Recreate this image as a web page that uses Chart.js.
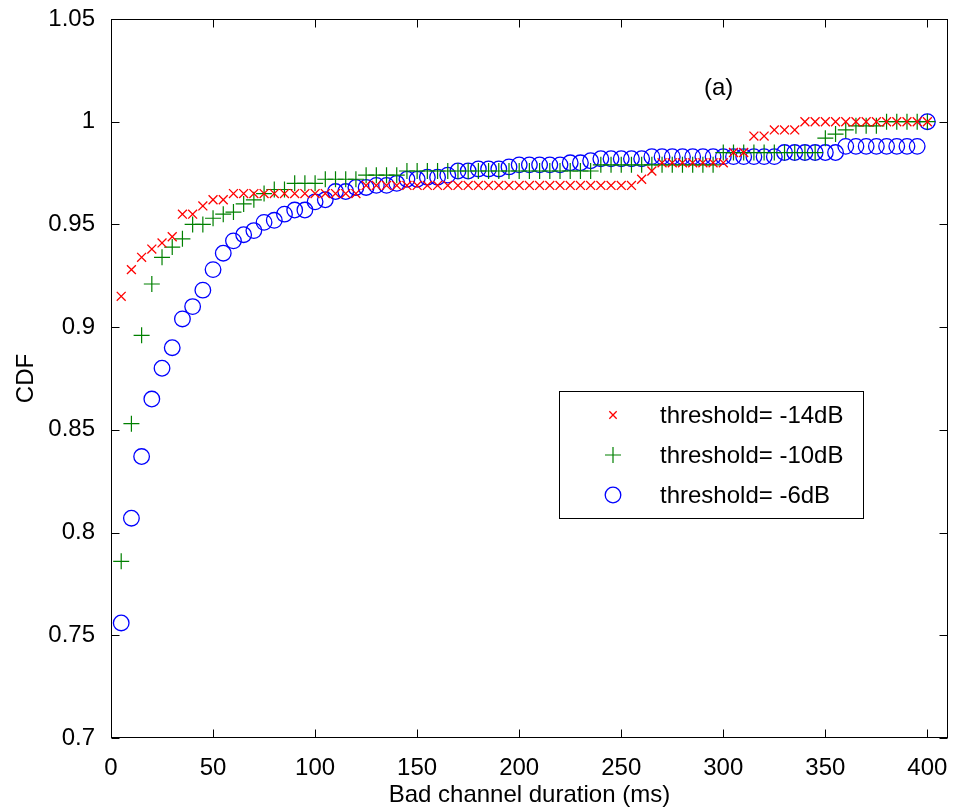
<!DOCTYPE html>
<html>
<head>
<meta charset="utf-8">
<script src="https://cdn.jsdelivr.net/npm/chart.js@4"></script>
<style>
  html, body { margin: 0; padding: 0; background: #ffffff; }
  #wrap { width: 957px; height: 811px; }
</style>
</head>
<body>
<div id="wrap"><canvas id="c" width="957" height="811"></canvas></div>
<script>
// ---- data ----
const xValues = [5,10,15,20,25,30,35,40,45,50,55,60,65,70,75,80,85,90,95,100,
  105,110,115,120,125,130,135,140,145,150,155,160,165,170,175,180,185,190,195,200,
  205,210,215,220,225,230,235,240,245,250,255,260,265,270,275,280,285,290,295,300,
  305,310,315,320,325,330,335,340,345,350,355,360,365,370,375,380,385,390,395,400];

const cdfMinus14 = [0.915,0.928,0.934,0.938,0.941,0.944,0.955,0.955,0.959,0.962,0.962,0.965,0.965,0.965,0.965,0.965,0.965,0.965,0.965,0.965,
  0.965,0.965,0.965,0.965,0.969,0.969,0.969,0.969,0.969,0.969,0.969,0.969,0.969,0.969,0.969,0.969,0.969,0.969,0.969,0.969,
  0.969,0.969,0.969,0.969,0.969,0.969,0.969,0.969,0.969,0.969,0.969,0.972,0.976,0.980,0.980,0.980,0.980,0.980,0.980,0.980,
  0.985,0.985,0.993,0.993,0.996,0.996,0.996,1.000,1.000,1.000,1.000,1.000,1.000,1.000,1.000,1.000,1.000,1.000,1.000,1.000];

const cdfMinus10 = [0.786,0.853,0.896,0.921,0.934,0.939,0.943,0.950,0.950,0.953,0.955,0.956,0.960,0.962,0.965,0.967,0.967,0.970,0.970,0.970,
  0.972,0.972,0.972,0.972,0.974,0.974,0.974,0.974,0.976,0.976,0.976,0.976,0.976,0.976,0.976,0.976,0.976,0.976,0.976,0.976,
  0.976,0.976,0.976,0.976,0.976,0.976,0.976,0.979,0.979,0.979,0.979,0.979,0.979,0.979,0.979,0.979,0.979,0.979,0.979,0.985,
  0.985,0.985,0.985,0.985,0.985,0.985,0.985,0.985,0.985,0.992,0.994,0.996,0.998,0.998,0.998,1.000,1.000,1.000,1.000,1.000];

const cdfMinus6 = [0.756,0.807,0.837,0.865,0.880,0.890,0.904,0.910,0.918,0.928,0.936,0.942,0.945,0.947,0.951,0.952,0.955,0.957,0.957,0.961,
  0.962,0.966,0.966,0.968,0.968,0.969,0.969,0.970,0.972,0.972,0.973,0.973,0.974,0.976,0.976,0.977,0.977,0.977,0.978,0.979,
  0.979,0.979,0.979,0.979,0.980,0.980,0.981,0.982,0.982,0.982,0.982,0.982,0.983,0.983,0.983,0.983,0.983,0.983,0.983,0.983,
  0.983,0.983,0.983,0.983,0.983,0.985,0.985,0.985,0.985,0.985,0.985,0.988,0.988,0.988,0.988,0.988,0.988,0.988,0.988,1.000];

const seriesLabels = ['threshold= -14dB', 'threshold= -10dB', 'threshold= -6dB'];
const xTickLabels = ['0','50','100','150','200','250','300','350','400'];
const yTickLabels = ['0.7','0.75','0.8','0.85','0.9','0.95','1','1.05'];
const xAxisTitle = 'Bad channel duration (ms)';
const yAxisTitle = 'CDF';
const panelTag = '(a)';
const panelTagAt = { x: 297.7, y: 1.016 };

// ---- styling ----
const FONT = '"Liberation Sans", Arial, Helvetica, sans-serif';
const styles = [
  { color: '#ff0000', pointStyle: 'crossRot', radius: 6.3, borderWidth: 1.3 },
  { color: '#008000', pointStyle: 'cross', radius: 8, borderWidth: 1.2 },
  { color: '#0000ff', pointStyle: 'circle', radius: 7.8, borderWidth: 1.3 }
];
const series = [cdfMinus14, cdfMinus10, cdfMinus6];

const datasets = series.map((vals, i) => ({
  label: seriesLabels[i],
  data: xValues.map((x, j) => ({ x: x, y: vals[j] })),
  showLine: false,
  pointStyle: styles[i].pointStyle,
  pointRadius: styles[i].radius,
  pointHoverRadius: styles[i].radius,
  pointBorderColor: styles[i].color,
  pointBackgroundColor: 'rgba(0,0,0,0)',
  pointBorderWidth: styles[i].borderWidth,
  clip: false
}));

function drawMarker(ctx, style, x, y, r) {
  ctx.save();
  ctx.strokeStyle = style.color;
  ctx.lineWidth = style.borderWidth;
  ctx.beginPath();
  if (style.pointStyle === 'circle') {
    ctx.arc(x, y, r, 0, Math.PI * 2);
  } else if (style.pointStyle === 'cross') {
    ctx.moveTo(x - r, y); ctx.lineTo(x + r, y);
    ctx.moveTo(x, y - r); ctx.lineTo(x, y + r);
  } else {
    const d = r * Math.SQRT1_2;
    ctx.moveTo(x - d, y - d); ctx.lineTo(x + d, y + d);
    ctx.moveTo(x - d, y + d); ctx.lineTo(x + d, y - d);
  }
  ctx.stroke();
  ctx.restore();
}

const framePlugin = {
  id: 'matlabFrame',
  afterDatasetsDraw(chart) {
    const ctx = chart.ctx;
    const a = chart.chartArea;
    const L = Math.round(a.left) + 0.5, R = Math.round(a.right) - 0.5;
    const T = Math.round(a.top) + 0.5, B = Math.round(a.bottom) - 0.5;
    const tick = 8;
    ctx.save();
    ctx.strokeStyle = '#000000';
    ctx.lineWidth = 1;
    ctx.strokeRect(L, T, R - L, B - T);
    ctx.beginPath();
    chart.scales.x.ticks.forEach(t => {
      const px = Math.round(chart.scales.x.getPixelForValue(t.value)) + 0.5;
      ctx.moveTo(px, B); ctx.lineTo(px, B - tick);
      ctx.moveTo(px, T); ctx.lineTo(px, T + tick);
    });
    chart.scales.y.ticks.forEach(t => {
      const py = Math.round(chart.scales.y.getPixelForValue(t.value)) + 0.5;
      ctx.moveTo(L, py); ctx.lineTo(L + tick, py);
      ctx.moveTo(R, py); ctx.lineTo(R - tick, py);
    });
    ctx.stroke();

    // panel tag
    ctx.fillStyle = '#000000';
    ctx.font = '24px ' + FONT;
    ctx.textAlign = 'center';
    ctx.textBaseline = 'middle';
    ctx.fillText(panelTag, chart.scales.x.getPixelForValue(panelTagAt.x), chart.scales.y.getPixelForValue(panelTagAt.y));

    // legend box
    const box = { left: 559, top: 391, right: 863, bottom: 518 };
    ctx.fillStyle = '#ffffff';
    ctx.fillRect(box.left, box.top, box.right - box.left, box.bottom - box.top);
    ctx.strokeStyle = '#000000';
    ctx.strokeRect(box.left + 0.5, box.top + 0.5, box.right - box.left, box.bottom - box.top);
    const rowY = [415, 455, 495];
    const markerX = 613, textX = 660;
    const legendR = [5.2, 8, 7.8];
    chart.data.datasets.forEach((ds, i) => {
      drawMarker(ctx, styles[i], markerX, rowY[i], legendR[i]);
      ctx.fillStyle = '#000000';
      ctx.font = '24px ' + FONT;
      ctx.textAlign = 'left';
      ctx.textBaseline = 'middle';
      ctx.fillText(ds.label, textX, rowY[i] + 1);
    });
    ctx.restore();
  }
};

function labelFor(list, value) {
  const hit = list.find(s => Math.abs(Number(s) - value) < 1e-6);
  return hit === undefined ? '' : hit;
}

new Chart(document.getElementById('c'), {
  type: 'scatter',
  data: { datasets: datasets },
  options: {
    responsive: false,
    animation: false,
    devicePixelRatio: 1,
    layout: { padding: { top: 19, right: 3, left: 0, bottom: 0 } },
    plugins: {
      legend: { display: false },
      tooltip: { enabled: false }
    },
    scales: {
      x: {
        type: 'linear',
        min: 0, max: 410,
        grid: { display: false },
        border: { display: false },
        ticks: {
          stepSize: 50,
          includeBounds: false,
          autoSkip: false,
          maxRotation: 0,
          padding: 8,
          color: '#000000',
          font: { family: FONT, size: 24 },
          callback: (v) => labelFor(xTickLabels, v)
        },
        title: {
          display: true,
          text: xAxisTitle,
          color: '#000000',
          font: { family: FONT, size: 24 },
          padding: { top: 0, bottom: 1 }
        },
        afterFit: (s) => { s.height = 73; s.paddingLeft = 0; s.paddingRight = 0; }
      },
      y: {
        type: 'linear',
        min: 0.7, max: 1.05,
        grid: { display: false },
        border: { display: false },
        ticks: {
          stepSize: 0.05,
          includeBounds: false,
          autoSkip: false,
          padding: 8,
          color: '#000000',
          font: { family: FONT, size: 24 },
          callback: (v) => labelFor(yTickLabels, v)
        },
        title: {
          display: true,
          text: yAxisTitle,
          color: '#000000',
          font: { family: FONT, size: 24 },
          padding: { top: 12, bottom: 0 }
        },
        afterFit: (s) => { s.width = 111; s.paddingTop = 0; s.paddingBottom = 0; }
      }
    }
  },
  plugins: [framePlugin]
});
</script>
</body>
</html>
